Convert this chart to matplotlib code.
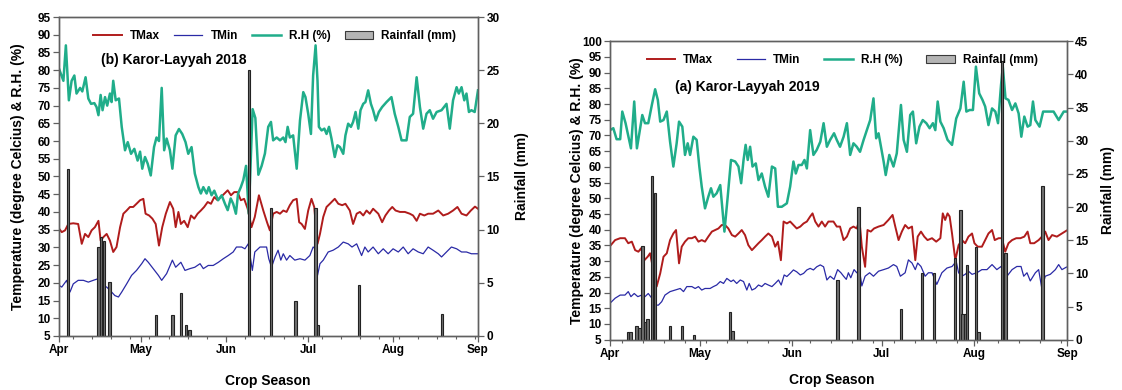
import numpy as np
import pandas as pd
import matplotlib
matplotlib.use("Agg")
import matplotlib.pyplot as plt
import matplotlib.dates as mdates
from matplotlib.lines import Line2D
from matplotlib.patches import Patch

plt.rcParams["font.family"] = ["Liberation Sans", "DejaVu Sans"]
plt.rcParams["font.weight"] = "bold"

# ---- 2018 (days counted from 1 April) ----
tmax18_day = [0, 1.0, 2.2, 3.4, 5.2, 7.0, 8.3, 9.5, 10.7, 11.9,
              13.1, 14.4, 15.2, 16.2, 17.4, 18.6, 19.8, 21.0, 22.3, 23.5,
              24.7, 25.9, 27.1, 28.3, 29.6, 30.8, 31.6, 32.9, 34.1, 35.3,
              36.5, 37.7, 39.0, 40.5, 41.7, 42.6, 43.6, 44.5, 45.7, 47.0,
              48.2, 49.4, 50.6, 51.8, 53.0, 54.3, 55.5, 56.7, 57.9, 59.1,
              60.3, 61.6, 62.8, 64.0, 65.2, 66.4, 67.6, 68.9, 70.3, 71.5,
              73.0, 74.6, 76.0, 77.0, 78.2, 79.5, 80.7, 81.9, 83.1, 84.3,
              85.5, 86.8, 87.7, 88.6, 89.8, 91.0, 92.2, 93.2, 94.4, 95.3,
              96.5, 97.7, 98.9, 100.7, 102.0, 103.4, 104.6, 106.2, 107.4, 108.7,
              109.9, 111.1, 112.3, 113.5, 114.7, 116.6, 118.0, 119.2, 120.5, 121.7,
              122.9, 124.5, 126.3, 128.1, 129.3, 130.6, 131.8, 133.4, 134.8, 136.6,
              138.5, 140.3, 142.1, 143.9, 145.5, 147.0, 148.8, 150.4, 151.9, 153.0]
tmax18 = [35.3, 34.3, 34.8, 36.6, 36.8, 36.6, 31.0, 33.8, 32.9, 34.8,
          35.7, 37.5, 31.9, 32.9, 33.8, 31.9, 28.7, 30.1, 35.7, 39.5,
          40.4, 41.4, 41.4, 42.3, 43.3, 43.7, 39.5, 39.0, 38.1, 36.6,
          30.5, 35.7, 39.5, 42.8, 40.9, 35.7, 40.0, 36.6, 37.5, 35.7,
          39.0, 38.1, 39.5, 40.4, 41.4, 42.8, 42.3, 44.2, 43.3, 44.2,
          45.1, 46.1, 44.7, 45.6, 45.6, 43.3, 43.7, 40.9, 35.7, 38.6,
          44.7, 40.4, 37.0, 34.8, 39.5, 40.0, 39.5, 40.4, 40.0, 41.9,
          43.3, 43.7, 37.1, 36.6, 35.2, 40.4, 43.7, 41.4, 31.0, 33.8,
          38.6, 41.4, 42.3, 43.7, 42.3, 41.9, 42.3, 40.4, 36.6, 39.5,
          40.0, 39.0, 40.4, 39.5, 40.9, 39.5, 37.1, 39.0, 40.4, 41.4,
          40.4, 40.0, 40.0, 39.5, 39.0, 37.5, 39.5, 39.0, 39.5, 39.5,
          40.4, 39.0, 39.5, 40.4, 41.4, 39.5, 39.0, 40.4, 41.5, 40.9]

tmin18_day = [0, 1.0, 2.8, 4.0, 5.2, 7.0, 8.9, 10.7, 12.5, 14.4,
              15.6, 17.4, 18.6, 20.4, 21.7, 22.9, 24.7, 26.5, 28.3, 30.2,
              31.4, 32.6, 34.4, 36.3, 37.5, 39.3, 41.4, 42.6, 44.5, 46.0,
              47.8, 49.6, 51.5, 52.7, 54.5, 56.3, 58.2, 60.0, 61.8, 63.6,
              64.8, 66.7, 67.9, 69.1, 70.6, 71.5, 73.4, 75.8, 76.6, 77.6,
              78.9, 80.0, 81.0, 81.9, 83.1, 84.3, 86.1, 88.0, 89.8, 91.6,
              92.8, 93.7, 94.4, 95.3, 96.5, 98.3, 100.1, 102.0, 103.8, 105.6,
              107.0, 108.7, 110.5, 111.7, 112.9, 114.7, 116.6, 118.4, 120.2, 122.0,
              123.9, 125.7, 127.5, 129.3, 131.2, 133.0, 134.8, 136.6, 138.5, 139.7,
              141.5, 143.3, 145.2, 147.0, 148.8, 150.6, 153.0]
tmin18 = [19.3, 18.8, 20.7, 17.4, 19.7, 20.7, 20.7, 20.2, 20.7, 21.2,
          19.3, 18.8, 17.9, 16.4, 16.0, 17.4, 19.7, 22.1, 23.5, 25.4,
          26.8, 25.8, 24.0, 22.1, 20.7, 22.6, 26.4, 24.4, 25.8, 23.5,
          24.0, 24.4, 25.4, 24.0, 24.9, 24.9, 25.8, 26.8, 27.7, 28.7,
          30.1, 30.1, 29.6, 31.0, 23.5, 28.7, 30.1, 30.1, 26.8, 24.4,
          27.3, 29.2, 26.4, 28.2, 26.4, 27.7, 26.4, 26.8, 26.4, 27.7,
          30.1, 29.6, 22.1, 25.4, 26.4, 28.7, 29.2, 30.1, 31.5, 31.0,
          30.1, 31.0, 27.7, 30.1, 28.7, 30.1, 28.2, 29.6, 28.2, 29.6,
          28.7, 30.1, 28.2, 29.6, 28.7, 28.2, 30.1, 29.2, 28.2, 27.3,
          28.7, 30.1, 29.6, 28.7, 28.7, 28.2, 28.2]

rh18_day = [0, 1.6, 2.5, 3.6, 4.6, 5.6, 6.4, 7.7, 8.5, 9.7,
            10.7, 11.7, 12.9, 13.7, 14.4, 15.2, 15.9, 16.8, 17.6, 18.6,
            19.2, 19.8, 20.7, 21.9, 22.9, 24.1, 25.1, 26.3, 27.5, 28.7,
            29.6, 30.4, 31.4, 32.4, 33.5, 34.7, 35.6, 36.5, 37.5, 38.4,
            39.3, 40.5, 41.4, 42.6, 43.8, 45.0, 46.2, 47.2, 48.4, 49.6,
            50.9, 51.8, 52.7, 53.9, 54.7, 55.7, 56.7, 58.1, 59.4, 60.6,
            61.6, 62.7, 63.6, 64.6, 65.4, 66.4, 67.3, 68.3, 69.3, 70.7,
            71.7, 72.8, 74.0, 75.2, 76.4, 77.4, 78.2, 79.5, 80.7, 81.9,
            82.7, 83.5, 84.3, 85.5, 86.8, 88.0, 89.2, 90.0, 91.0, 92.0,
            92.8, 93.7, 94.4, 94.9, 95.9, 96.9, 97.7, 98.6, 99.5, 100.7,
            101.7, 102.6, 103.8, 104.6, 105.6, 106.6, 107.4, 108.3, 109.3, 110.1,
            111.1, 111.9, 112.9, 113.9, 114.7, 115.7, 116.8, 118.0, 119.6, 121.4,
            122.6, 123.9, 125.1, 126.9, 128.1, 129.3, 130.6, 131.8, 133.0, 134.2,
            135.4, 136.6, 137.9, 139.7, 141.5, 142.7, 143.9, 145.2, 146.0, 147.0,
            148.0, 148.8, 149.7, 150.6, 151.8, 153.0]
rh18 = [80.4, 77.0, 87.0, 71.5, 77.0, 78.5, 73.4, 75.0, 74.0, 78.0,
        72.0, 70.5, 70.7, 69.6, 67.3, 73.0, 68.7, 72.4, 70.0, 73.4,
        71.0, 77.0, 71.5, 72.0, 64.0, 57.4, 59.7, 56.4, 57.8, 54.5,
        57.0, 52.2, 55.5, 53.6, 50.3, 58.3, 61.0, 60.0, 75.0, 57.4,
        60.7, 57.4, 52.2, 61.6, 63.4, 62.0, 59.7, 56.4, 58.3, 50.8,
        47.0, 45.2, 47.0, 45.2, 47.0, 44.7, 46.0, 43.3, 44.7, 42.3,
        40.5, 43.8, 42.3, 39.5, 45.2, 47.0, 49.0, 53.0, 39.5, 69.0,
        66.5, 50.5, 53.0, 56.5, 64.0, 65.4, 60.2, 61.0, 60.2, 61.0,
        59.7, 64.0, 61.0, 61.6, 52.2, 65.8, 73.8, 72.4, 67.7, 62.0,
        78.5, 87.0, 77.0, 64.0, 63.0, 63.5, 62.0, 64.0, 60.7, 55.5,
        58.8, 58.3, 56.4, 61.6, 64.9, 64.0, 65.4, 68.2, 63.5, 68.7,
        70.5, 71.0, 74.3, 70.5, 68.7, 65.8, 68.2, 69.6, 71.0, 72.4,
        67.7, 64.0, 60.2, 60.2, 66.8, 67.7, 78.0, 69.6, 63.5, 67.7,
        68.7, 66.3, 68.2, 68.7, 70.5, 63.5, 71.5, 75.2, 73.4, 75.2,
        71.5, 73.4, 68.2, 68.7, 68.2, 74.3]

rain18_day = [3.3, 14.5, 15.4, 16.5, 18.4, 35.4, 41.5, 44.5, 46.4, 47.6,
              69.4, 77.4, 86.4, 93.6, 94.6, 109.5, 139.8]
rain18 = [15.7, 8.4, 9.3, 8.9, 5.1, 2.0, 2.0, 4.0, 1.0, 0.6,
          25.0, 12.0, 3.3, 12.0, 1.0, 4.8, 2.1]

# ---- 2019 (days counted from 1 April) ----
tmax19_day = [0, 1.7, 3.4, 5.0, 6.1, 7.3, 8.4, 9.5, 10.4, 11.5,
              12.6, 13.4, 14.5, 15.6, 16.8, 17.9, 19.0, 20.1, 21.2, 22.1,
              23.1, 24.0, 25.1, 26.2, 27.4, 28.5, 29.6, 30.7, 31.8, 32.9,
              34.1, 35.2, 36.3, 37.4, 38.5, 39.6, 40.8, 41.9, 43.0, 44.1,
              45.2, 46.3, 47.5, 48.6, 49.7, 50.8, 51.9, 53.0, 54.2, 55.3,
              56.2, 57.2, 58.1, 59.2, 60.3, 61.4, 62.5, 63.7, 64.8, 65.9,
              67.0, 67.8, 68.7, 69.8, 70.9, 72.0, 73.1, 74.8, 75.9, 77.0,
              78.2, 79.3, 80.4, 81.5, 82.6, 83.5, 84.3, 85.4, 86.2, 87.3,
              88.4, 89.9, 91.6, 93.2, 94.6, 95.5, 96.6, 97.7, 98.8, 99.9,
              101.1, 102.2, 103.0, 104.1, 105.2, 106.3, 107.8, 109.2, 110.6, 111.4,
              112.2, 113.0, 113.7, 114.5, 115.6, 116.7, 117.8, 118.9, 120.0, 121.2,
              122.0, 123.1, 124.5, 125.6, 126.7, 127.9, 128.8, 130.1, 131.2, 132.3,
              133.4, 134.6, 136.0, 137.4, 138.7, 139.8, 140.7, 142.0, 143.5, 144.6,
              145.7, 146.8, 148.0, 149.6, 151.3, 152.8]
tmax19 = [34.8, 36.7, 37.3, 37.3, 35.7, 36.2, 33.5, 33.0, 34.1, 30.3,
          31.4, 32.5, 27.2, 21.9, 26.1, 31.4, 32.5, 36.7, 38.8, 39.9,
          29.3, 34.6, 36.2, 37.3, 37.3, 37.8, 36.2, 36.7, 36.2, 37.8,
          39.4, 39.9, 40.4, 41.5, 41.5, 40.4, 38.3, 37.8, 38.8, 39.9,
          38.3, 35.1, 33.5, 34.6, 35.7, 36.7, 37.8, 38.8, 37.8, 34.6,
          36.2, 30.3, 42.6, 42.0, 42.6, 41.5, 40.4, 41.0, 42.0, 42.6,
          44.2, 45.2, 42.6, 41.0, 42.6, 41.0, 42.6, 42.6, 41.0, 41.0,
          36.7, 37.8, 40.4, 41.0, 40.4, 43.1, 34.6, 28.2, 39.9, 39.4,
          40.4, 41.0, 41.5, 43.1, 44.7, 41.0, 36.7, 39.4, 41.5, 40.4,
          41.0, 30.3, 37.8, 39.4, 37.8, 36.7, 37.3, 36.2, 37.3, 45.2,
          43.1, 45.2, 44.2, 38.8, 30.3, 35.1, 36.7, 35.7, 37.8, 38.8,
          35.7, 34.6, 34.6, 36.7, 38.8, 39.9, 36.7, 37.3, 37.3, 33.0,
          35.7, 36.7, 37.3, 37.3, 37.8, 39.4, 35.7, 35.7, 36.7, 37.8,
          39.4, 36.7, 38.3, 37.8, 38.8, 39.7]

tmin19_day = [0, 1.7, 3.4, 5.0, 6.1, 7.0, 8.1, 9.3, 10.6, 11.7,
              12.8, 14.0, 15.1, 16.2, 17.3, 18.4, 20.1, 21.8, 23.5, 24.6,
              25.7, 27.4, 28.5, 29.6, 30.7, 31.8, 33.5, 34.6, 35.7, 36.9,
              38.0, 39.1, 40.5, 41.3, 42.4, 43.6, 44.7, 45.8, 46.6, 47.5,
              48.6, 49.7, 50.8, 51.9, 53.0, 54.2, 55.3, 56.4, 57.3, 58.3,
              59.2, 60.3, 61.4, 62.5, 63.7, 64.8, 65.9, 67.0, 68.1, 69.2,
              70.4, 71.5, 72.6, 73.7, 75.0, 76.2, 77.3, 78.2, 79.1, 79.8,
              80.6, 81.7, 82.6, 83.5, 84.3, 85.4, 86.9, 88.2, 89.9, 91.6,
              93.2, 94.9, 96.0, 97.2, 98.8, 99.9, 101.1, 102.2, 103.0, 104.1,
              105.5, 106.6, 107.8, 109.4, 111.1, 112.8, 114.5, 115.9, 116.7, 117.8,
              118.9, 120.0, 121.2, 122.8, 124.5, 126.2, 127.9, 129.5, 130.9, 131.8,
              132.9, 134.6, 136.2, 137.6, 138.5, 139.6, 140.7, 142.4, 143.5, 144.6,
              145.7, 147.4, 149.1, 150.2, 151.3, 152.8]
tmin19 = [16.6, 18.2, 19.2, 19.2, 20.3, 18.7, 19.7, 18.7, 19.2, 18.7,
          19.7, 18.2, 16.0, 16.0, 17.1, 19.2, 20.3, 20.8, 21.3, 20.3,
          21.9, 21.9, 21.3, 21.9, 20.8, 21.3, 21.3, 21.9, 22.4, 23.5,
          22.9, 24.5, 23.5, 24.0, 22.9, 24.0, 23.5, 20.8, 22.9, 20.8,
          21.3, 22.4, 21.9, 22.9, 22.4, 21.9, 22.9, 24.0, 22.4, 25.6,
          25.1, 26.1, 27.2, 26.6, 25.6, 26.1, 27.2, 27.7, 27.2, 28.2,
          28.8, 28.2, 24.0, 25.2, 24.2, 27.3, 26.3, 25.2, 24.2, 26.3,
          24.7, 27.3, 26.3, 27.3, 22.1, 25.2, 26.3, 25.2, 26.8, 27.3,
          27.8, 28.9, 28.3, 25.2, 26.3, 30.4, 29.4, 27.3, 29.4, 28.3,
          25.2, 26.3, 26.3, 22.6, 26.3, 27.8, 28.3, 29.9, 26.3, 25.2,
          25.8, 26.8, 25.8, 26.3, 27.3, 27.3, 28.9, 27.3, 28.3, 26.3,
          25.2, 27.3, 28.3, 28.3, 25.2, 26.3, 23.7, 26.3, 27.3, 21.1,
          25.2, 25.8, 27.3, 28.9, 27.3, 28.1]

rh19_day = [0, 1.1, 2.2, 3.4, 4.1, 5.2, 6.4, 7.0, 8.1, 9.0,
            10.0, 10.8, 11.7, 12.8, 14.0, 15.1, 16.0, 16.8, 17.9, 19.0,
            20.1, 21.2, 22.3, 23.1, 24.2, 25.1, 26.0, 26.8, 27.9, 29.0,
            29.9, 30.7, 31.8, 32.9, 33.8, 34.6, 35.7, 36.9, 38.3, 39.4,
            40.5, 41.9, 43.0, 43.9, 44.7, 45.4, 46.1, 46.9, 47.7, 48.8,
            49.7, 50.8, 51.9, 53.0, 54.2, 55.3, 56.2, 57.5, 59.2, 60.3,
            61.4, 62.2, 63.1, 64.2, 65.1, 65.9, 67.0, 68.1, 69.2, 70.4,
            71.5, 72.6, 73.7, 75.0, 75.9, 77.0, 78.2, 79.3, 80.4, 81.5,
            82.6, 83.7, 84.9, 86.0, 87.1, 88.2, 89.1, 89.9, 90.7, 91.6,
            92.3, 93.5, 94.9, 96.0, 97.4, 98.3, 99.4, 100.5, 101.4, 102.5,
            103.6, 104.7, 105.9, 107.0, 108.1, 108.9, 109.7, 110.6, 111.7, 113.0,
            114.5, 115.9, 117.3, 118.4, 119.3, 120.4, 121.5, 122.5, 123.6, 124.7,
            125.6, 126.7, 127.9, 129.0, 129.9, 130.9, 131.5, 132.4, 133.4, 134.6,
            135.7, 136.8, 137.7, 138.7, 139.8, 140.7, 141.6, 142.4, 143.8, 145.0,
            146.8, 148.5, 150.2, 151.9, 152.8]
rh19 = [71.7, 72.3, 68.8, 68.8, 77.6, 73.9, 68.6, 65.9, 80.8, 65.9,
        71.7, 76.5, 73.9, 73.9, 79.7, 84.7, 81.3, 74.4, 74.9, 77.6,
        68.0, 60.1, 67.5, 74.4, 72.8, 63.8, 67.5, 63.8, 69.6, 68.6,
        60.1, 53.7, 46.8, 50.5, 53.2, 50.5, 51.6, 54.2, 39.4, 50.5,
        62.2, 61.7, 60.1, 54.8, 62.2, 67.0, 62.2, 66.4, 60.1, 61.1,
        55.8, 57.9, 53.7, 50.5, 60.1, 59.5, 47.3, 47.3, 48.4, 53.7,
        61.7, 57.9, 60.6, 60.6, 62.2, 59.5, 71.7, 63.8, 65.4, 68.0,
        73.9, 66.4, 68.6, 70.7, 68.6, 66.4, 69.6, 73.9, 63.8, 67.5,
        66.4, 64.8, 68.6, 71.7, 74.9, 81.8, 69.1, 70.7, 66.4, 61.7,
        57.4, 63.8, 60.1, 64.3, 79.7, 68.6, 64.8, 76.5, 77.6, 67.5,
        72.8, 74.9, 73.9, 72.3, 73.9, 71.7, 80.8, 74.4, 72.3, 68.6,
        67.0, 75.4, 78.6, 87.1, 77.6, 78.1, 78.1, 91.9, 83.4, 81.3,
        79.2, 73.3, 78.6, 77.6, 73.9, 86.0, 91.9, 81.8, 81.3, 78.1,
        80.2, 77.0, 69.6, 76.0, 72.8, 73.3, 80.8, 74.9, 72.8, 77.6,
        77.6, 77.6, 74.9, 77.6, 77.6]

rain19_day = [6.0, 6.8, 8.9, 9.8, 10.8, 11.7, 12.6, 14.0, 15.1, 20.1,
              24.1, 28.1, 40.2, 41.1, 76.2, 83.3, 97.4, 104.4, 108.5, 115.5,
              117.3, 118.1, 118.8, 119.5, 122.5, 123.4, 131.2, 132.3, 144.8]
rain19 = [1.2, 1.2, 2.1, 1.7, 14.1, 2.7, 3.1, 24.7, 22.1, 2.1,
          2.1, 0.7, 4.1, 1.3, 9.0, 20.0, 4.6, 10.0, 10.0, 12.3,
          19.6, 3.9, 3.9, 11.3, 14.0, 1.1, 42.0, 13.0, 23.1]

RED = "#b01c1c"
BLUE = "#2a2aa6"
TEAL = "#20ad8a"
FRAME = "#606060"


def to_num(start, days):
    return mdates.date2num(pd.Timestamp(start) + pd.to_timedelta(np.asarray(days), unit="D"))


def draw_panel(fig, rect, year, tmax_d, tmax, tmin_d, tmin, rh_d, rh, rain_d, rain,
               ylim, rlim, title, title_xy, leg_xy, leg_gap, ylab_x, rlab_x, xlab_xy):
    start = f"{year}-04-01"
    ax = fig.add_axes(rect)
    ax2 = ax.twinx()

    ax.plot(to_num(start, tmax_d), tmax, color=RED, lw=1.4)
    ax.plot(to_num(start, tmin_d), tmin, color=BLUE, lw=0.9)
    ax.plot(to_num(start, rh_d), rh, color=TEAL, lw=1.8)
    ax2.bar(to_num(start, rain_d), rain, width=0.9, color="#707070",
            edgecolor="#222222", lw=0.8)

    ax.set_xlim(mdates.date2num(pd.Timestamp(start)),
                mdates.date2num(pd.Timestamp(f"{year}-09-01")))
    ax.set_ylim(*ylim)
    ax.set_yticks(np.arange(ylim[0], ylim[1] + 1, 5))
    ax2.set_ylim(*rlim)
    ax2.set_yticks(np.arange(rlim[0], rlim[1] + 1, 5))

    ax.xaxis.set_major_locator(mdates.MonthLocator())
    ax.xaxis.set_major_formatter(mdates.DateFormatter("%b"))
    ax.xaxis.set_minor_locator(mdates.WeekdayLocator(byweekday=mdates.FR))

    for a in (ax, ax2):
        for sp in a.spines.values():
            sp.set_color(FRAME)
            sp.set_linewidth(1.0)
        a.tick_params(which="major", length=4, width=0.9, color=FRAME,
                      labelsize=8.5, pad=2)
        a.tick_params(which="minor", length=2.5, width=0.8, color=FRAME)
    for lab in ax.get_xticklabels() + ax.get_yticklabels() + ax2.get_yticklabels():
        lab.set_fontweight("bold")

    ax.set_ylabel("Temperature (degree Celcius) & R.H. (%)", fontsize=10,
                  fontweight="bold")
    ax.yaxis.set_label_coords(ylab_x, 0.5)
    ax2.set_ylabel("Rainfall (mm)", fontsize=10, fontweight="bold")
    ax2.yaxis.set_label_coords(rlab_x, 0.5)
    ax.set_xlabel("Crop Season", fontsize=10, fontweight="bold")
    ax.xaxis.set_label_coords(*xlab_xy)

    ax.text(title_xy[0], title_xy[1], title, transform=ax.transAxes,
            ha="center", va="center", fontsize=10, fontweight="bold")

    handles = [Line2D([], [], color=RED, lw=1.4),
               Line2D([], [], color=BLUE, lw=0.9),
               Line2D([], [], color=TEAL, lw=1.8),
               Patch(facecolor="#b4b4b4", edgecolor="#3a3a3a", lw=0.8)]
    labels = ["TMax", "TMin", "R.H (%)", "Rainfall (mm)"]
    ax2.legend(handles, labels, loc="center", bbox_to_anchor=leg_xy, ncol=4,
               frameon=False, prop={"size": 8.5, "weight": "bold"},
               handlelength=2.4, handletextpad=0.7, columnspacing=leg_gap)
    return ax, ax2


fig = plt.figure(figsize=(11.22, 3.9), dpi=100)

draw_panel(fig, [0.0526, 0.1385, 0.3734, 0.8179], 2018,
           tmax18_day, tmax18, tmin18_day, tmin18, rh18_day, rh18, rain18_day, rain18,
           (5, 95), (0, 30), "(b) Karor-Layyah 2018", (0.274, 0.865), (0.515, 0.94), 1.2,
           -0.081, 1.088, (0.499, -0.119))

draw_panel(fig, [0.5437, 0.1290, 0.4073, 0.7654], 2019,
           tmax19_day, tmax19, tmin19_day, tmin19, rh19_day, rh19, rain19_day, rain19,
           (5, 100), (0, 45), "(a) Karor-Layyah 2019", (0.30, 0.846), (0.508, 0.936), 2.0,
           -0.057, 1.074, (0.486, -0.112))

fig.savefig("out.png", dpi=100)
